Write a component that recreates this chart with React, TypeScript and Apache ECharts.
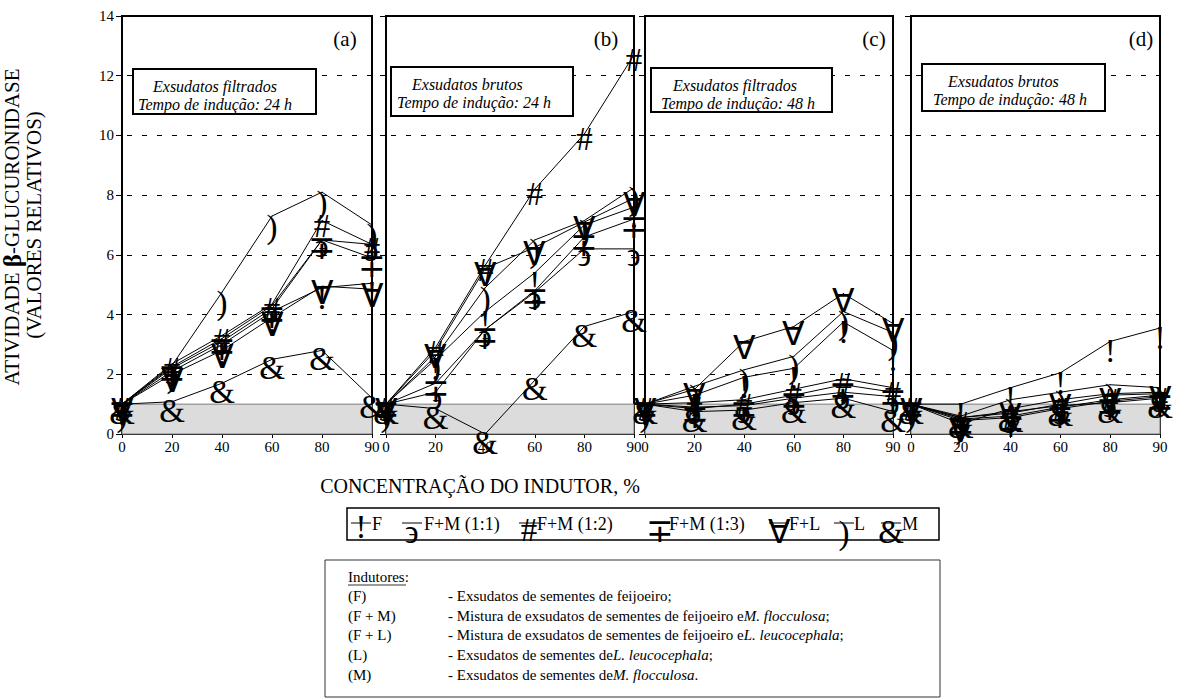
import React, { useEffect, useRef } from 'react';
import * as echarts from 'echarts';

const CONC = ['0', '20', '40', '60', '80', '90'];
const PANEL_LABELS = ['(a)', '(b)', '(c)', '(d)'];
const BOX_LINE1 = ['Exsudatos filtrados', 'Exsudatos brutos', 'Exsudatos filtrados', 'Exsudatos brutos'];
const BOX_LINE2 = ['Tempo de indução: 24 h', 'Tempo de indução: 24 h', 'Tempo de indução: 48 h', 'Tempo de indução: 48 h'];

const SERIES_NAMES = ['F', 'F+M (1:1)', 'F+M (1:2)', 'F+M (1:3)', 'F+L', 'L', 'M'];
const SERIES_GLYPHS = ['!', '϶', '#', '∓', '∀', ')', '&'];

// panel (a) filtrados 24 h
const A_F = [1, 2.1, 3.0, 4.1, 4.9, 5.05];
const A_FM11 = [1, 2.25, 3.2, 4.3, 6.5, 6.35];
const A_FM12 = [1, 2.35, 3.3, 4.35, 7.15, 6.35];
const A_FM13 = [1, 2.2, 3.1, 4.2, 6.5, 5.9];
const A_FL = [1, 2.0, 2.8, 3.9, 4.95, 4.85];
const A_L = [1, 2.3, 4.75, 7.3, 8.1, 7.0];
const A_M = [1, 1.08, 1.7, 2.5, 2.8, 1.2];
// panel (b) brutos 24 h
const B_F = [1, 2.5, 4.1, 5.4, 7.0, 7.6];
const B_FM11 = [1, 1.4, 3.5, 4.75, 6.2, 6.2];
const B_FM12 = [1, 2.9, 5.65, 8.2, 10.05, 12.7];
const B_FM13 = [1, 1.7, 3.5, 4.8, 6.6, 7.2];
const B_FL = [1, 2.8, 5.55, 6.25, 7.1, 7.9];
const B_L = [1, 2.6, 4.9, 6.5, 7.15, 8.25];
const B_M = [1, 0.85, 0.0, 1.8, 3.6, 4.1];
// panel (c) filtrados 48 h
const C_F = [1, 1.3, 1.9, 2.2, 3.75, 2.8];
const C_FM11 = [1, 0.9, 0.95, 1.2, 1.4, 1.25];
const C_FM12 = [1, 1.05, 1.15, 1.5, 1.85, 1.55];
const C_FM13 = [1, 0.85, 1.0, 1.3, 1.65, 1.4];
const C_FL = [1, 1.5, 3.1, 3.6, 4.7, 3.7];
const C_L = [1, 1.6, 2.15, 2.6, 4.1, 3.4];
const C_M = [1, 0.75, 0.8, 1.05, 1.2, 0.75];
// panel (d) brutos 48 h
const D_F = [1, 1.0, 1.55, 2.05, 3.1, 3.55];
const D_FM11 = [1, 0.5, 0.6, 0.9, 1.15, 1.3];
const D_FM12 = [1, 0.55, 0.7, 1.0, 1.3, 1.35];
const D_FM13 = [1, 0.45, 0.55, 0.85, 1.1, 1.25];
const D_FL = [1, 0.35, 0.85, 1.15, 1.35, 1.4];
const D_L = [1, 0.6, 1.15, 1.4, 1.65, 1.55];
const D_M = [1, 0.55, 0.75, 0.95, 1.05, 1.2];

const PANEL_DATA = [
  [A_F, A_FM11, A_FM12, A_FM13, A_FL, A_L, A_M],
  [B_F, B_FM11, B_FM12, B_FM13, B_FL, B_L, B_M],
  [C_F, C_FM11, C_FM12, C_FM13, C_FL, C_L, C_M],
  [D_F, D_FM11, D_FM12, D_FM13, D_FL, D_L, D_M],
];

const IND_CODES = ['(F)', '(F + M)', '(F + L)', '(L)', '(M)'];
const IND_TEXT = [
  '{n|- Exsudatos de sementes de feijoeiro;}',
  '{n|- Mistura de exsudatos de sementes de feijoeiro e}{i|M. flocculosa}{n|;}',
  '{n|- Mistura de exsudatos de sementes de feijoeiro e}{i|L. leucocephala}{n|;}',
  '{n|- Exsudatos de sementes de}{i|L. leucocephala}{n|;}',
  '{n|- Exsudatos de sementes de}{i|M. flocculosa}{n|.}',
];

const SERIF = 'Liberation Serif';
const GLYPH_FONT = 'Liberation Serif';
const GLYPH_SIZE = 33;
// vertical shift of each marker glyph below its data point (style)
const GLYPH_DY = [10, 6, 5, 8, 7, 11, 9];
const LEGEND_DY = [4, 9, 7, 8, 9, 10, 9];

const GRIDS = [
  { left: 122, width: 250 },
  { left: 386, width: 248 },
  { left: 645, width: 248 },
  { left: 911, width: 249 },
];
const BOXES = [
  { x: 133, y: 69, w: 183, h: 45, t1: 153, t2: 138 },
  { x: 391, y: 67, w: 182, h: 49, t1: 412, t2: 397 },
  { x: 651, y: 68, w: 181, h: 44, t1: 673, t2: 661 },
  { x: 922, y: 64, w: 183, h: 47, t1: 948, t2: 933 },
];
const LABEL_X = [345, 606, 874, 1141];

export default function App() {
  const ref = useRef<HTMLDivElement>(null);
  useEffect(() => {
    if (!ref.current) return;
    const chart = echarts.init(ref.current, undefined, { renderer: 'svg' });

    const grid = GRIDS.map((g) => ({
      left: g.left, width: g.width, top: 16, height: 418,
      show: true, borderColor: '#000', borderWidth: 2, backgroundColor: 'transparent',
    }));
    const xAxis = GRIDS.map((_, i) => ({
      gridIndex: i, type: 'category', data: CONC, boundaryGap: false,
      axisLine: { show: true, lineStyle: { color: '#000', width: 2 } },
      axisTick: { show: true, length: 4, lineStyle: { color: '#000' } },
      axisLabel: { color: '#000', fontSize: 15, fontFamily: SERIF, margin: 5 },
      splitLine: { show: false },
    }));
    const yAxis = GRIDS.map((_, i) => ({
      gridIndex: i, type: 'value', min: 0, max: 14, interval: 2,
      axisLine: { show: true, lineStyle: { color: '#000', width: 2 } },
      axisTick: { show: true, length: 6, lineStyle: { color: '#000' } },
      axisLabel: { show: i === 0, color: '#000', fontSize: 15, fontFamily: SERIF, margin: 8 },
      splitLine: { show: true, lineStyle: { color: '#000', width: 1, type: [5, 10], dashOffset: 10 } },
    }));

    const series: any[] = [];
    PANEL_DATA.forEach((panel, p) => {
      panel.forEach((vals, s) => {
        const glyph = SERIES_GLYPHS[s];
        series.push({
          type: 'line', name: SERIES_NAMES[s], xAxisIndex: p, yAxisIndex: p,
          data: vals, symbol: 'circle', symbolSize: 1, clip: false,
          itemStyle: { color: '#000' },
          lineStyle: { color: '#000', width: 1 },
          label: {
            show: true, position: 'inside', offset: [0, GLYPH_DY[s]], formatter: () => glyph,
            fontSize: GLYPH_SIZE, fontFamily: GLYPH_FONT, color: '#000',
          },
          emphasis: { disabled: true }, silent: true, z: 3,
          markArea: s === 0 ? {
            silent: true,
            itemStyle: { color: '#dcdcdc', borderColor: '#7a7a7a', borderWidth: 1 },
            data: [[{ yAxis: 0 }, { yAxis: 1 }]],
          } : undefined,
        });
      });
    });

    const graphic: any[] = [];
    GRIDS.forEach((_, i) => {
      graphic.push({ type: 'text', x: LABEL_X[i], y: 39, z: 10,
        style: { text: PANEL_LABELS[i], fontSize: 21, fontFamily: SERIF, fill: '#000', textAlign: 'center', textVerticalAlign: 'middle' } });
      const b = BOXES[i];
      graphic.push({ type: 'rect', z: 10, shape: { x: b.x, y: b.y, width: b.w, height: b.h },
        style: { fill: '#fff', stroke: '#000', lineWidth: 2 } });
      graphic.push({ type: 'text', x: b.t1, y: b.y + 17, z: 11,
        style: { text: BOX_LINE1[i], fontSize: 16, fontStyle: 'italic', fontFamily: SERIF, fill: '#000', textVerticalAlign: 'middle' } });
      graphic.push({ type: 'text', x: b.t2, y: b.y + 35, z: 11,
        style: { text: BOX_LINE2[i], fontSize: 16, fontStyle: 'italic', fontFamily: SERIF, fill: '#000', textVerticalAlign: 'middle' } });
    });
    graphic.push({ type: 'text', x: 12, y: 227, rotation: Math.PI / 2, z: 10,
      style: {
        text: '{n|ATIVIDADE }{b|β}{n|-GLUCURONIDASE}', textAlign: 'center', textVerticalAlign: 'middle', fill: '#000',
        rich: { n: { fontSize: 21, fontFamily: SERIF, fill: '#000' }, b: { fontSize: 25, fontWeight: 'bold', fontFamily: SERIF, fill: '#000' } },
      } });
    graphic.push({ type: 'text', x: 34, y: 225, rotation: Math.PI / 2, z: 10,
      style: { text: '(VALORES RELATIVOS)', fontSize: 21, fontFamily: SERIF, fill: '#000', textAlign: 'center', textVerticalAlign: 'middle' } });
    graphic.push({ type: 'text', x: 480, y: 486, z: 10,
      style: { text: 'CONCENTRAÇÃO DO INDUTOR, %', fontSize: 20, fontFamily: SERIF, fill: '#000', textAlign: 'center', textVerticalAlign: 'middle' } });

    // legend
    graphic.push({ type: 'rect', z: 10, shape: { x: 347, y: 508, width: 592, height: 32 },
      style: { fill: 'none', stroke: '#000', lineWidth: 1.5 } });
    const LEG_Y = 523;
    const legPos = [
      { gx: 361, tx: 372 }, { gx: 412, tx: 424 }, { gx: 529, tx: 537 }, { gx: 660, tx: 669 },
      { gx: 779, tx: 789 }, { gx: 844, tx: 854 }, { gx: 891, tx: 902 },
    ];
    legPos.forEach((lp, s) => {
      graphic.push({ type: 'line', z: 11, shape: { x1: lp.gx - 10, y1: LEG_Y, x2: lp.gx + 10, y2: LEG_Y },
        style: { stroke: '#000', lineWidth: 1 } });
      graphic.push({ type: 'text', x: lp.gx, y: LEG_Y + LEGEND_DY[s], z: 11,
        style: { text: SERIES_GLYPHS[s], fontSize: GLYPH_SIZE, fontFamily: GLYPH_FONT, fill: '#000', textAlign: 'center', textVerticalAlign: 'middle' } });
      graphic.push({ type: 'text', x: lp.tx, y: LEG_Y + 1, z: 11,
        style: { text: SERIES_NAMES[s], fontSize: 18, fontFamily: SERIF, fill: '#000', textVerticalAlign: 'middle' } });
    });

    // inducers box
    graphic.push({ type: 'rect', z: 10, shape: { x: 325, y: 560, width: 615, height: 137 },
      style: { fill: 'none', stroke: '#333', lineWidth: 1 } });
    graphic.push({ type: 'text', x: 348, y: 577, z: 11,
      style: { text: 'Indutores:', fontSize: 15, fontFamily: SERIF, fill: '#000', textVerticalAlign: 'middle' } });
    graphic.push({ type: 'line', z: 11, shape: { x1: 348, y1: 585, x2: 406, y2: 585 }, style: { stroke: '#000', lineWidth: 0.8 } });
    IND_CODES.forEach((c, k) => {
      const y = 596 + k * 19.7;
      graphic.push({ type: 'text', x: 348, y, z: 11,
        style: { text: c, fontSize: 15, fontFamily: SERIF, fill: '#000', textVerticalAlign: 'middle' } });
      graphic.push({ type: 'text', x: 448, y, z: 11,
        style: {
          text: IND_TEXT[k], fill: '#000', textVerticalAlign: 'middle',
          rich: {
            n: { fontSize: 15, fontFamily: SERIF, fill: '#000' },
            i: { fontSize: 15, fontFamily: SERIF, fontStyle: 'italic', fill: '#000' },
          },
        } });
    });

    chart.setOption({ animation: false, backgroundColor: '#fff', grid, xAxis, yAxis, series, graphic });
    return () => chart.dispose();
  }, []);
  return <div ref={ref} style={{ position: 'fixed', left: 0, top: 0, width: 1178, height: 699 }} />;
}
